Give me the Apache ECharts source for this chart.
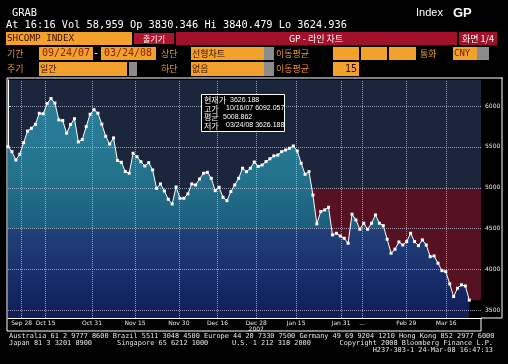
<!DOCTYPE html>
<html><head><meta charset="utf-8">
<script src="https://cdn.jsdelivr.net/npm/echarts@6/dist/echarts.min.js"></script>
<style>html,body{margin:0;padding:0;background:#000;}#c{width:508px;height:364px;}</style>
</head><body><div id="c"></div>
<script>
// Trading days (SSE) 09/24/07 - 03/24/08
const dates = ['09/24','09/25','09/26','09/27','09/28','10/08','10/09','10/10','10/11','10/12','10/15','10/16','10/17','10/18','10/19','10/22','10/23','10/24','10/25','10/26','10/29','10/30','10/31','11/01','11/02','11/05','11/06','11/07','11/08','11/09','11/12','11/13','11/14','11/15','11/16','11/19','11/20','11/21','11/22','11/23','11/26','11/27','11/28','11/29','11/30','12/03','12/04','12/05','12/06','12/07','12/10','12/11','12/12','12/13','12/14','12/17','12/18','12/19','12/20','12/21','12/24','12/25','12/26','12/27','12/28','01/02','01/03','01/04','01/07','01/08','01/09','01/10','01/11','01/14','01/15','01/16','01/17','01/18','01/21','01/22','01/23','01/24','01/25','01/28','01/29','01/30','01/31','02/01','02/04','02/05','02/13','02/14','02/15','02/18','02/19','02/20','02/21','02/22','02/25','02/26','02/27','02/28','02/29','03/03','03/04','03/05','03/06','03/07','03/10','03/11','03/12','03/13','03/14','03/17','03/18','03/19','03/20','03/21','03/24'];
const closes = [5503,5442,5340,5410,5552, 5693,5728,5776,5911,5905, 6030,6092.06,6036,5830,5822, 5667,5774,5845,5562,5590,
  5748,5899,5955,5912,5778, 5630,5535,5610,5335,5312, 5200,5178,5422,5380,5319, 5267,5307,5218,4994,5047,
  4961,4860,4803,5010,4872, 4872,4925,5047,5035,5108, 5178,5190,5116,4965,5006, 4884,4843,4953,5035,5116,
  5239,5197,5239,5315,5262, 5279,5320,5355,5390,5401, 5442,5462,5483,5511,5450, 5300,5165,5197,4912,4559,
  4709,4729,4762,4424,4444, 4411,4383,4322,4677,4607, 4493,4567,4493,4567,4668, 4567,4537,4371,4200,4249,
  4338,4301,4342,4444,4342, 4293,4363,4301,4158,4167, 4078,3987,3975,3825,3670, 3772,3813,3800,3626.19];
const meanValue = 5008.862;
const lowValue = 3626.188;
const redStart = 77.66; // where price first falls below the mean
const yTicks = [3500, 4000, 4500, 5000, 5500, 6000];
const xTickPos = [3.5, 9.6, 21.5, 32.5, 43.7, 53.6, 63.5, 73.7, 85.2, 90.6, 101.9, 112.1];
const xTickLabels = ['Sep 28','Oct 15','Oct 31','Nov 15','Nov 30','Dec 16','Dec 28','Jan 15','Jan 31','...','Feb 29','Mar 16'];

const pts = closes.map((v, i) => [i, v]);
const chart = echarts.init(document.getElementById('c'), null, {renderer: 'canvas'});

const ORANGE = '#f2a22c', RED = '#a3102a', OTXT = '#e8962a';
const mono = 'DejaVu Sans Mono', kr = 'Noto Sans CJK KR';
function box(x, y, w, h, fill) { return {type: 'rect', shape: {x, y, width: w, height: h}, style: {fill}, silent: true}; }
function txt(x, y, s, o) {
  o = o || {};
  return {type: 'text', x, y, style: {text: s, fill: o.fill || '#fff', font: o.font || ('10px ' + mono), textAlign: o.align || 'left', textVerticalAlign: 'middle'}, silent: true, z: 10};
}
function hline(x1, x2, y, c) { return {type: 'line', shape: {x1, y1: y, x2, y2: y}, style: {stroke: c || '#fff', lineWidth: 1}, silent: true, z: 20}; }
function vline(x, y1, y2, c) { return {type: 'line', shape: {x1: x, y1, x2: x, y2}, style: {stroke: c || '#fff', lineWidth: 1}, silent: true, z: 20}; }

const graphics = [
  txt(12, 13, 'GRAB', {font: '10.4px ' + mono}),
  txt(6, 25, 'At 16:16 Vol 58,959 Op 3830.346 Hi 3840.479 Lo 3624.936', {font: '10.3px ' + mono}),
  txt(416, 13, 'Index', {font: '11px Liberation Sans'}),
  txt(453, 13, 'GP', {font: 'bold 13px Liberation Sans'}),
  // row 1
  box(6, 32, 126, 13, ORANGE), txt(7, 38.5, 'SHCOMP INDEX', {fill: '#3a0a00', font: '9.3px ' + mono}),
  box(134, 33, 40, 11, '#b3142c'), txt(154, 38.5, '출기기', {align: 'center', font: '8px ' + kr}),
  box(176, 32, 281, 13, RED), txt(316, 38.5, 'GP - 라인 차트', {align: 'center', font: '9px ' + kr}),
  box(459, 32, 38, 13, RED), txt(478, 38.5, '화면 1/4', {align: 'center', font: '9px ' + kr}),
  // row 2
  txt(7, 53.5, '기간', {fill: OTXT, font: '9px ' + kr}),
  box(39, 47, 54, 13, ORANGE), txt(66, 53.5, '09/24/07', {align: 'center', fill: '#8a1c00', font: '10px ' + mono}),
  txt(96, 53.5, '-', {align: 'center', font: '10px ' + mono}),
  box(101, 47, 55, 13, ORANGE), txt(128, 53.5, '03/24/08', {align: 'center', fill: '#8a1c00', font: '10px ' + mono}),
  txt(161, 53.5, '상단', {fill: OTXT, font: '9px ' + kr}),
  box(191, 47, 73, 13, ORANGE), box(264, 47, 10, 13, '#8c8c8c'), txt(192, 53.5, '선형차트', {fill: '#3a0a00', font: '9px ' + kr}),
  txt(276, 53.5, '이동평균', {fill: OTXT, font: '9px ' + kr}),
  box(333, 47, 26, 13, ORANGE), box(361, 47, 26, 13, ORANGE), box(389, 47, 27, 13, ORANGE),
  txt(420, 53.5, '통화', {fill: OTXT, font: '9px ' + kr}),
  box(453, 47, 24, 13, ORANGE), box(477, 47, 12, 13, '#8c8c8c'), txt(454, 53.5, 'CNY', {fill: '#7a1800', font: '9px ' + mono}),
  // row 3
  txt(7, 69, '주기', {fill: OTXT, font: '9px ' + kr}),
  box(39, 62, 88, 14, ORANGE), box(129, 62, 8, 14, '#8c8c8c'), txt(40, 69, '일간', {fill: '#3a0a00', font: '9px ' + kr}),
  txt(161, 69, '하단', {fill: OTXT, font: '9px ' + kr}),
  box(191, 62, 73, 14, ORANGE), box(264, 62, 10, 14, '#8c8c8c'), txt(192, 69, '없음', {fill: '#3a0a00', font: '9px ' + kr}),
  txt(276, 69, '이동평균', {fill: OTXT, font: '9px ' + kr}),
  box(333, 62, 26, 14, ORANGE), txt(357, 69, '15', {align: 'right', fill: '#3a0a00', font: '10px ' + mono}),
  // frame
  hline(7, 503, 78), vline(7, 78, 331), vline(502, 78, 318), hline(481, 502, 318), vline(481, 318, 331), hline(7, 481, 331),
  // info box
  {type: 'rect', shape: {x: 201.5, y: 94.5, width: 83, height: 37}, style: {fill: '#000', stroke: '#fff', lineWidth: 1}, z: 30, silent: true},
  {type: 'text', x: 204, y: 100, style: {text: '현재가', fill: '#fff', font: '8px ' + kr, textVerticalAlign: 'middle'}, z: 31},
  {type: 'text', x: 230, y: 100, style: {text: '3626.188', fill: '#fff', font: '7px Liberation Sans', textVerticalAlign: 'middle'}, z: 31},
  {type: 'text', x: 204, y: 108.5, style: {text: '고가', fill: '#fff', font: '8px ' + kr, textVerticalAlign: 'middle'}, z: 31},
  {type: 'text', x: 226, y: 108.5, style: {text: '10/16/07 6092.057', fill: '#fff', font: '7px Liberation Sans', textVerticalAlign: 'middle'}, z: 31},
  {type: 'text', x: 204, y: 117, style: {text: '평균', fill: '#fff', font: '8px ' + kr, textVerticalAlign: 'middle'}, z: 31},
  {type: 'text', x: 223, y: 117, style: {text: '5008.862', fill: '#fff', font: '7px Liberation Sans', textVerticalAlign: 'middle'}, z: 31},
  {type: 'text', x: 204, y: 125.5, style: {text: '저가', fill: '#fff', font: '8px ' + kr, textVerticalAlign: 'middle'}, z: 31},
  {type: 'text', x: 226, y: 125.5, style: {text: '03/24/08 3626.188', fill: '#fff', font: '7px Liberation Sans', textVerticalAlign: 'middle'}, z: 31},
  // footer
  txt(9, 336.5, 'Australia 61 2 9777 8600 Brazil 5511 3048 4500 Europe 44 20 7330 7500 Germany 49 69 9204 1210 Hong Kong 852 2977 6000', {fill: '#e6e6e6', font: '6.9px ' + mono}),
  txt(9, 343.5, 'Japan 81 3 3201 8900', {fill: '#e6e6e6', font: '6.9px ' + mono}),
  txt(117, 343.5, 'Singapore 65 6212 1000', {fill: '#e6e6e6', font: '6.9px ' + mono}),
  txt(232, 343.5, 'U.S. 1 212 318 2000', {fill: '#e6e6e6', font: '6.9px ' + mono}),
  txt(493, 343.5, 'Copyright 2008 Bloomberg Finance L.P.', {fill: '#e6e6e6', font: '6.9px ' + mono, align: 'right'}),
  txt(493, 350.5, 'H237-303-1 24-Mar-08 16:47:13', {fill: '#e6e6e6', font: '6.9px ' + mono, align: 'right'})
];

const areaGrad = {type: 'linear', x: 0, y: 80, x2: 0, y2: 318, global: true, colorStops: [
  {offset: 0, color: '#2c84a0'}, {offset: 0.4, color: '#24728c'}, {offset: 0.62, color: '#1c5e7e'},
  {offset: 0.625, color: '#22407a'}, {offset: 0.8, color: '#19306c'}, {offset: 1, color: '#0f1d58'}]};

const gridLineStyle = {color: '#bcc4d4', type: [1, 1], width: 1, opacity: 0.75};
const hidden = {lineStyle: {opacity: 0}, symbol: 'none', silent: true};

const yMin = 3408, yMax = 6318, xMin = 0, xMax = 121;

const option = {
  backgroundColor: '#000',
  animation: false,
  graphic: graphics,
  grid: {left: 8, right: 27, top: 80, bottom: 46, show: true, backgroundColor: '#1b253c', borderWidth: 0},
  xAxis: {type: 'value', min: xMin, max: xMax,
    axisLine: {show: true, lineStyle: {color: '#fff'}}, axisTick: {show: false, customValues: xTickPos},
    splitLine: {show: false},
    axisLabel: {customValues: xTickPos, margin: 2, fontSize: 6, color: '#e8e8e8', fontFamily: 'DejaVu Sans', lineHeight: 6,
      formatter: v => { const k = xTickPos.indexOf(v); const s = k >= 0 ? xTickLabels[k] : ''; return s === 'Dec 28' ? s + '\n2007' : s; }}},
  yAxis: {type: 'value', position: 'right', min: yMin, max: yMax,
    axisLine: {show: true, lineStyle: {color: '#fff'}},
    axisTick: {show: true, customValues: yTicks, length: 3, lineStyle: {color: '#fff'}},
    axisLabel: {customValues: yTicks, fontSize: 6, color: '#e8e8e8', margin: 4, fontFamily: 'DejaVu Sans', formatter: v => String(v)},
    splitLine: {show: false}},
  series: [
    Object.assign({type: 'line', data: pts, z: 1,
      markArea: {silent: true, data: [
        [{xAxis: redStart, yAxis: meanValue, itemStyle: {color: '#561223'}}, {xAxis: xMax, yAxis: lowValue}],
        [{xAxis: xMin, yAxis: lowValue, itemStyle: {color: '#000'}}, {xAxis: xMax, yAxis: yMin}]]}}, hidden),
    {type: 'line', data: pts, z: 2, symbol: 'none', lineStyle: {width: 0}, areaStyle: {color: areaGrad, opacity: 1}, silent: true},
    Object.assign({type: 'line', data: pts, z: 3,
      markLine: {silent: true, symbol: ['none', 'none'], z: 3, label: {show: false}, lineStyle: gridLineStyle,
        data: xTickPos.map(v => ({xAxis: v})).concat(yTicks.map(v => ({yAxis: v})))}}, hidden),
    {type: 'line', data: pts, z: 4, symbol: 'rect', symbolSize: 3, showSymbol: true,
      lineStyle: {color: '#ffffff', width: 1}, itemStyle: {color: '#ffffff'}, silent: true}
  ]
};
chart.setOption(option);
</script></body></html>
